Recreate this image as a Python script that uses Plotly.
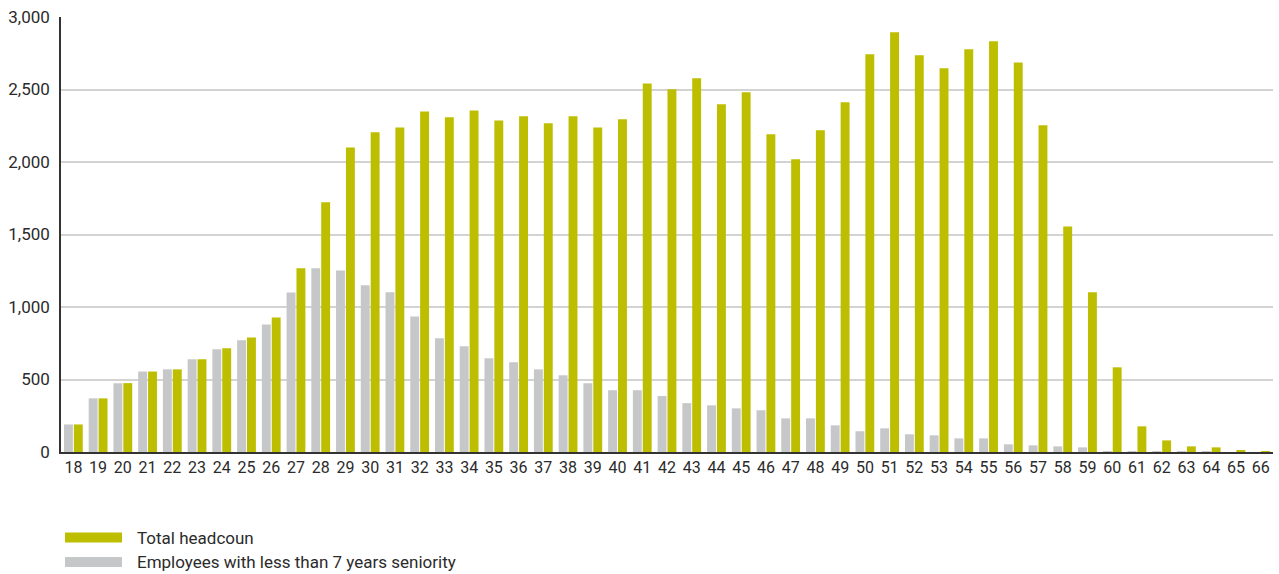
import plotly.graph_objects as go

# Age groups and headcounts
ages = [str(a) for a in range(18, 67)]
total_headcount = [
    190, 370, 475, 555, 570, 640, 715, 790, 928, 1267,
    1722, 2100, 2205, 2238, 2349, 2308, 2356, 2287, 2315, 2267,
    2315, 2238, 2295, 2542, 2502, 2577, 2398, 2481, 2191, 2019,
    2219, 2412, 2743, 2894, 2736, 2646, 2777, 2832, 2687, 2253,
    1556, 1101, 584, 177, 80, 39, 32, 12, 5,
]
less_than_7y = [
    190, 370, 474, 555, 570, 639, 708, 770, 880, 1100,
    1267, 1252, 1150, 1102, 935, 784, 729, 646, 619, 570,
    529, 474, 426, 426, 386, 337, 322, 301, 288, 232,
    232, 184, 143, 163, 122, 115, 94, 94, 53, 46,
    39, 32, 3, 2, 2, 1, 1, 0, 0,
]

GREEN = "#BDBE00"
GREY = "#C6C7C9"
TEXT = "#2b2b2b"
FONT = "Liberation Sans Narrow, Roboto, Arial, sans-serif"

W, H = 1279, 574
ML, MR, MT, MB = 61, 6, 17, 122
PH = H - MT - MB
PW = W - ML - MR

fig = go.Figure()
fig.add_trace(go.Bar(x=ages, y=less_than_7y, name="Employees with less than 7 years seniority",
                     marker=dict(color=GREY, line=dict(width=0))))
fig.add_trace(go.Bar(x=ages, y=total_headcount, name="Total headcoun",
                     marker=dict(color=GREEN, line=dict(width=0))))

fig.update_layout(
    width=W, height=H,
    margin=dict(l=ML, r=MR, t=MT, b=MB),
    paper_bgcolor="white", plot_bgcolor="white",
    barmode="group", bargap=0.2, bargroupgap=0.1,
    showlegend=False,
    font=dict(family=FONT, size=16, color=TEXT),
)
fig.update_xaxes(
    type="category", range=[-0.5, len(ages) - 0.5],
    showgrid=False, showline=True, linecolor="#333333", linewidth=1.5,
    ticks="", tickfont=dict(size=16, color=TEXT),
)
fig.update_yaxes(
    range=[0, 3000], tickvals=[0, 500, 1000, 1500, 2000, 2500, 3000],
    tickformat=",", showgrid=True, gridcolor="#D3D3D3", gridwidth=1.5,
    showline=True, linecolor="#333333", linewidth=1.5, zeroline=False,
    ticks="outside", ticklen=6, tickcolor="rgba(0,0,0,0)",
    tickfont=dict(size=17, color=TEXT),
)

# Legend drawn below the plot with wide swatches
def py(pix):
    return (H - MB - pix) / PH

def px(pix):
    return (pix - ML) / PW

legend_items = [("Total headcoun", GREEN, 537.5), ("Employees with less than 7 years seniority", GREY, 562)]
for label, color, yc in legend_items:
    fig.add_shape(type="rect", xref="paper", yref="paper",
                  x0=px(65), x1=px(122), y0=py(yc - 5), y1=py(yc + 5),
                  fillcolor=color, line=dict(width=0))
    fig.add_annotation(xref="paper", yref="paper", x=px(135), y=py(yc),
                       text=label, showarrow=False, xanchor="left", yanchor="middle",
                       font=dict(size=17, color=TEXT, family=FONT))

fig.write_html("out.html")
